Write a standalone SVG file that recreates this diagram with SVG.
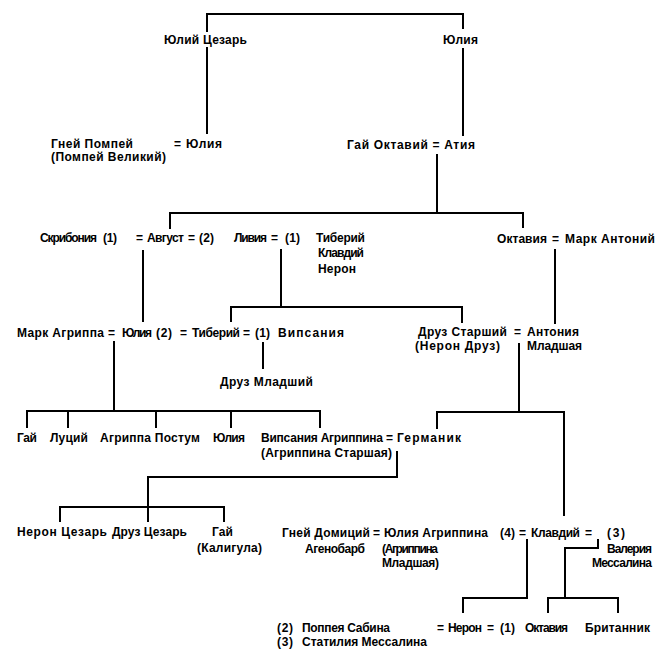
<svg xmlns="http://www.w3.org/2000/svg" width="665" height="658" viewBox="0 0 665 658">
<style>
  text { font-family: "Liberation Sans", Arial, sans-serif; font-size: 12px; font-weight: bold; fill: #000; }
  .c line { stroke: #000; stroke-width: 2; stroke-linecap: square; }
</style>
<rect width="665" height="658" fill="#fff"/>
<g id="connectors" class="c">
  <line x1="207" y1="14" x2="463" y2="14"/>
  <line x1="207" y1="14" x2="207" y2="31"/>
  <line x1="207" y1="48" x2="207" y2="133"/>
  <line x1="463" y1="14" x2="463" y2="28"/>
  <line x1="463" y1="49" x2="463" y2="135"/>
  <line x1="437" y1="155" x2="437" y2="213"/>
  <line x1="170" y1="213" x2="523" y2="213"/>
  <line x1="170" y1="213" x2="170" y2="228"/>
  <line x1="523" y1="213" x2="523" y2="227"/>
  <line x1="143" y1="251" x2="143" y2="321"/>
  <line x1="281" y1="250" x2="281" y2="307"/>
  <line x1="231" y1="307" x2="462" y2="307"/>
  <line x1="231" y1="307" x2="231" y2="321"/>
  <line x1="462" y1="307" x2="462" y2="322"/>
  <line x1="555" y1="250" x2="555" y2="323"/>
  <line x1="263" y1="343" x2="263" y2="368"/>
  <line x1="114" y1="342" x2="114" y2="411"/>
  <line x1="27" y1="411" x2="320" y2="411"/>
  <line x1="27" y1="411" x2="27" y2="427"/>
  <line x1="68" y1="411" x2="68" y2="427"/>
  <line x1="156" y1="411" x2="156" y2="427"/>
  <line x1="231" y1="411" x2="231" y2="427"/>
  <line x1="320" y1="411" x2="320" y2="427"/>
  <line x1="519" y1="344" x2="519" y2="412"/>
  <line x1="437" y1="412" x2="564" y2="412"/>
  <line x1="437" y1="412" x2="437" y2="428"/>
  <line x1="564" y1="412" x2="564" y2="515"/>
  <line x1="397" y1="452" x2="397" y2="477"/>
  <line x1="148" y1="477" x2="397" y2="477"/>
  <line x1="148" y1="477" x2="148" y2="521"/>
  <line x1="60" y1="507" x2="224" y2="507"/>
  <line x1="60" y1="507" x2="60" y2="521"/>
  <line x1="224" y1="507" x2="224" y2="521"/>
  <line x1="527" y1="540" x2="527" y2="598"/>
  <line x1="463" y1="598" x2="527" y2="598"/>
  <line x1="463" y1="598" x2="463" y2="612"/>
  <line x1="598" y1="540" x2="598" y2="548"/>
  <line x1="565" y1="548" x2="598" y2="548"/>
  <line x1="565" y1="548" x2="565" y2="598"/>
  <line x1="548" y1="598" x2="618" y2="598"/>
  <line x1="548" y1="598" x2="548" y2="612"/>
  <line x1="618" y1="598" x2="618" y2="612"/>
</g>
<g id="julius-caesar"><text x="164" y="44" textLength="83">Юлий Цезарь</text></g>
<g id="julia-sister"><text x="443" y="44" textLength="35">Юлия</text></g>
<g id="pompey-julia">
  <text x="51" y="148" textLength="82">Гней Помпей</text>
  <text x="51" y="161" textLength="115">(Помпей Великий)</text>
  <text x="174" y="148">=</text>
  <text x="186" y="148" textLength="36">Юлия</text>
</g>
<g id="octavius-atia"><text x="347" y="149" textLength="128">Гай Октавий = Атия</text></g>
<g id="augustus-marriages">
  <text x="40" y="242" textLength="57">Скрибония</text>
  <text x="103" y="242" textLength="14">(1)</text>
  <text x="136" y="242">=</text>
  <text x="147" y="242" textLength="37">Август</text>
  <text x="188" y="242">=</text>
  <text x="199" y="242" textLength="15">(2)</text>
  <text x="234" y="242" textLength="33">Ливия</text>
  <text x="271" y="242">=</text>
  <text x="285" y="242" textLength="15">(1)</text>
  <text x="316" y="242" textLength="49">Тиберий</text>
  <text x="318" y="257" textLength="46">Клавдий</text>
  <text x="318" y="273" textLength="38">Нерон</text>
</g>
<g id="octavia-antony">
  <text x="497" y="243" textLength="50">Октавия</text>
  <text x="552" y="243">=</text>
  <text x="565" y="243" textLength="90">Марк Антоний</text>
</g>
<g id="agrippa-julia-tiberius">
  <text x="17" y="337" textLength="87">Марк Агриппа</text>
  <text x="108" y="337">=</text>
  <text x="122" y="337" textLength="30">Юлия</text>
  <text x="156" y="337" textLength="16">(2)</text>
  <text x="180" y="337">=</text>
  <text x="192" y="337" textLength="48">Тиберий</text>
  <text x="243" y="337">=</text>
  <text x="255" y="337" textLength="15">(1)</text>
  <text x="278" y="337" textLength="66">Випсания</text>
</g>
<g id="drusus-antonia">
  <text x="418" y="336" textLength="89">Друз Старший</text>
  <text x="514" y="336">=</text>
  <text x="527" y="336" textLength="52">Антония</text>
  <text x="415" y="350" textLength="85">(Нерон Друз)</text>
  <text x="527" y="350" textLength="55">Младшая</text>
</g>
<g id="drusus-minor"><text x="220" y="386" textLength="93">Друз Младший</text></g>
<g id="gaius"><text x="17" y="442" textLength="20">Гай</text></g>
<g id="lucius"><text x="50" y="442" textLength="38">Луций</text></g>
<g id="agrippa-postumus"><text x="100" y="442" textLength="100">Агриппа Постум</text></g>
<g id="julia-younger"><text x="213" y="442" textLength="32">Юлия</text></g>
<g id="agrippina-germanicus">
  <text x="261" y="442" textLength="122">Випсания Агриппина</text>
  <text x="386" y="442">=</text>
  <text x="397" y="442" textLength="64">Германик</text>
  <text x="261" y="457" textLength="131">(Агриппина Старшая)</text>
</g>
<g id="nero-caesar"><text x="17" y="536" textLength="90">Нерон Цезарь</text></g>
<g id="drusus-caesar"><text x="112" y="536" textLength="75">Друз Цезарь</text></g>
<g id="caligula">
  <text x="212" y="536" textLength="21">Гай</text>
  <text x="197" y="552" textLength="65">(Калигула)</text>
</g>
<g id="domitius-agrippina-claudius">
  <text x="282" y="537" textLength="88">Гней Домиций</text>
  <text x="373" y="537">=</text>
  <text x="384" y="537" textLength="104">Юлия Агриппина</text>
  <text x="500" y="537" textLength="15">(4)</text>
  <text x="519" y="537">=</text>
  <text x="531" y="537" textLength="49">Клавдий</text>
  <text x="585" y="537">=</text>
  <text x="607" y="537" textLength="18">(3)</text>
  <text x="305" y="553" textLength="60">Агенобарб</text>
  <text x="382" y="553" textLength="56">(Агриппина</text>
  <text x="382" y="567" textLength="57">Младшая)</text>
</g>
<g id="messalina">
  <text x="607" y="553" textLength="45">Валерия</text>
  <text x="592" y="567" textLength="60">Мессалина</text>
</g>
<g id="nero-wives">
  <text x="277" y="632" textLength="16">(2)</text>
  <text x="302" y="632" textLength="88">Поппея Сабина</text>
  <text x="277" y="646" textLength="16">(3)</text>
  <text x="302" y="646" textLength="125">Статилия Мессалина</text>
  <text x="437" y="632">=</text>
  <text x="448" y="632" textLength="34">Нерон</text>
  <text x="487" y="632">=</text>
  <text x="500" y="632" textLength="15">(1)</text>
</g>
<g id="octavia-claudia"><text x="525" y="632" textLength="43">Октавия</text></g>
<g id="britannicus"><text x="585" y="632" textLength="65">Британник</text></g>
</svg>
